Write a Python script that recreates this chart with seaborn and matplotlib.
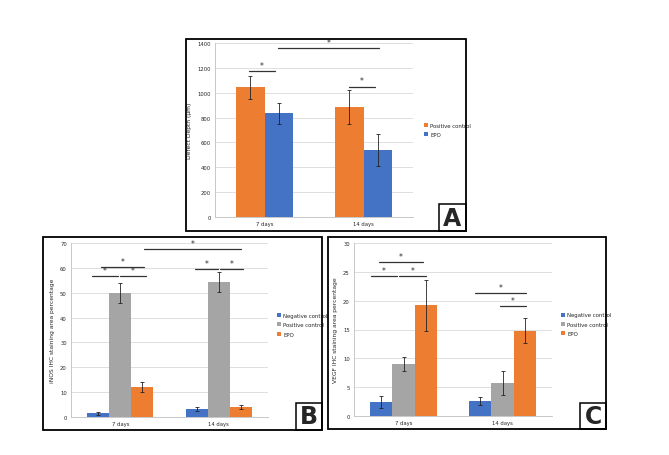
import numpy as np
import pandas as pd
import matplotlib
matplotlib.use("Agg")
import matplotlib.pyplot as plt
from matplotlib.patches import Rectangle
import seaborn as sns

# ---- data ----
days = ["7 days", "14 days"]

# panel A: defect depth
a_groups = ["Positive control", "EPO"]
a_pos = [1045, 885]
a_pos_err = [93, 140]
a_epo = [835, 540]
a_epo_err = [85, 130]

# panel B: iNOS
b_groups = ["Negative control", "Positive control", "EPO"]
b_neg = [1.5, 3.3]
b_neg_err = [0.7, 0.9]
b_pos = [50.0, 54.3]
b_pos_err = [4.0, 4.0]
b_epo = [12.0, 4.0]
b_epo_err = [2.0, 0.9]

# panel C: VEGF
c_neg = [2.4, 2.6]
c_neg_err = [1.0, 0.7]
c_pos = [9.0, 5.7]
c_pos_err = [1.2, 2.1]
c_epo = [19.2, 14.8]
c_epo_err = [4.4, 2.2]

# significance lines (x from, x to in category units, height)
a_sig = [(-0.16, 0.11, 1175), (0.14, 1.16, 1360), (0.85, 1.12, 1050)]
b_sig = [(-0.29, -0.02, 56.7), (0.0, 0.26, 56.7), (-0.2, 0.24, 60.3),
         (0.24, 1.23, 67.6), (0.76, 0.99, 59.5), (1.01, 1.25, 59.5)]
c_sig = [(-0.33, -0.07, 24.3), (-0.05, 0.23, 24.3), (-0.25, 0.2, 26.7),
         (0.72, 1.24, 21.3), (0.97, 1.24, 19.1)]

BLUE = "#4472C4"
ORANGE = "#ED7D31"
GRAY = "#A5A5A5"

W, H = 669, 456
sns.set_style("white")
plt.rcParams['font.family'] = ['DejaVu Sans']

fig = plt.figure(figsize=(W / 100, H / 100), dpi=100)


def rect(x0, y0, x1, y1):
    return [x0 / W, 1 - y1 / H, (x1 - x0) / W, (y1 - y0) / H]


def box(x0, y0, x1, y1, lw=1.3):
    r = rect(x0, y0, x1, y1)
    fig.add_artist(Rectangle((r[0], r[1]), r[2], r[3], transform=fig.transFigure,
                             fill=False, lw=lw, ec="black"))


def label_box(x0, y0, x1, y1, letter):
    box(x0, y0, x1, y1, lw=1.1)
    fig.text((x0 + x1) / 2 / W, 1 - (y0 + y1) / 2 / H, letter, ha="center", va="center",
             fontsize=17, fontweight="bold")


def panel(ax_rect, df, groups, palette, width, ymax, step, ylabel, sig, leg_anchor):
    ax = fig.add_axes(ax_rect)
    sns.barplot(data=df, x="day", y="value", hue="group", order=days, hue_order=groups,
                palette=palette, width=width, errorbar=None, saturation=1, ax=ax,
                linewidth=0, zorder=2)
    # precomputed error bars on the bar centres
    for cont, g in zip(ax.containers, groups):
        sub = df[df.group == g].set_index("day").loc[days]
        xs = [b.get_x() + b.get_width() / 2 for b in cont]
        ax.errorbar(xs, sub["value"], yerr=sub["err"], fmt="none", ecolor="#222222",
                    elinewidth=0.6, capsize=1.6, capthick=0.6, zorder=3)
    for x0, x1, y in sig:
        ax.plot([x0, x1], [y, y], color="#333333", lw=0.9, zorder=4, clip_on=False)
        ax.text((x0 + x1) / 2, y + ymax * 0.006, "*", ha="center", va="bottom",
                fontsize=5.5, zorder=4, clip_on=False)
    ax.set_xlim(-0.5, 1.5)
    ax.set_ylim(0, ymax)
    ax.set_yticks(np.arange(0, ymax + step / 2, step))
    ax.yaxis.grid(True, color="#D9D9D9", lw=0.6, zorder=0)
    ax.set_axisbelow(True)
    ax.tick_params(length=0, labelsize=3.8, pad=3)
    ax.set_xlabel("")
    ax.set_ylabel(ylabel, fontsize=4.3, labelpad=4)
    for s in ["top", "right"]:
        ax.spines[s].set_visible(False)
    for s in ["left", "bottom"]:
        ax.spines[s].set_color("#BFBFBF")
        ax.spines[s].set_linewidth(0.6)
    ax.legend(loc="center left", bbox_to_anchor=leg_anchor, frameon=False, fontsize=3.9,
              handlelength=0.8, handleheight=0.8, handletextpad=0.4, labelspacing=0.8)
    return ax


df_a = pd.DataFrame({
    "day": days * 2,
    "group": [a_groups[0]] * 2 + [a_groups[1]] * 2,
    "value": a_pos + a_epo,
    "err": a_pos_err + a_epo_err,
})
df_b = pd.DataFrame({
    "day": days * 3,
    "group": [b_groups[0]] * 2 + [b_groups[1]] * 2 + [b_groups[2]] * 2,
    "value": b_neg + b_pos + b_epo,
    "err": b_neg_err + b_pos_err + b_epo_err,
})
df_c = pd.DataFrame({
    "day": days * 3,
    "group": [b_groups[0]] * 2 + [b_groups[1]] * 2 + [b_groups[2]] * 2,
    "value": c_neg + c_pos + c_epo,
    "err": c_neg_err + c_pos_err + c_epo_err,
})

panel(rect(215, 44, 413, 218), df_a, a_groups, [ORANGE, BLUE], 0.58, 1400, 200,
      "Defect Depth (μm)", a_sig, (1.03, 0.5))
panel(rect(71, 244, 268, 418), df_b, b_groups, [BLUE, GRAY, ORANGE], 0.67, 70, 10,
      "iNOS IHC staining area percentage", b_sig, (1.02, 0.53))
panel(rect(354, 244, 552, 417), df_c, b_groups, [BLUE, GRAY, ORANGE], 0.67, 30, 5,
      "VEGF IHC staining area percentage", c_sig, (1.02, 0.53))

box(186, 40, 466, 232)
label_box(439, 205, 466, 232, "A")
box(43, 238, 322, 431)
label_box(296, 404, 322, 431, "B")
box(328, 238, 606, 430)
label_box(580, 404, 606, 430, "C")

fig.savefig("out.png", dpi=100, facecolor="white")
